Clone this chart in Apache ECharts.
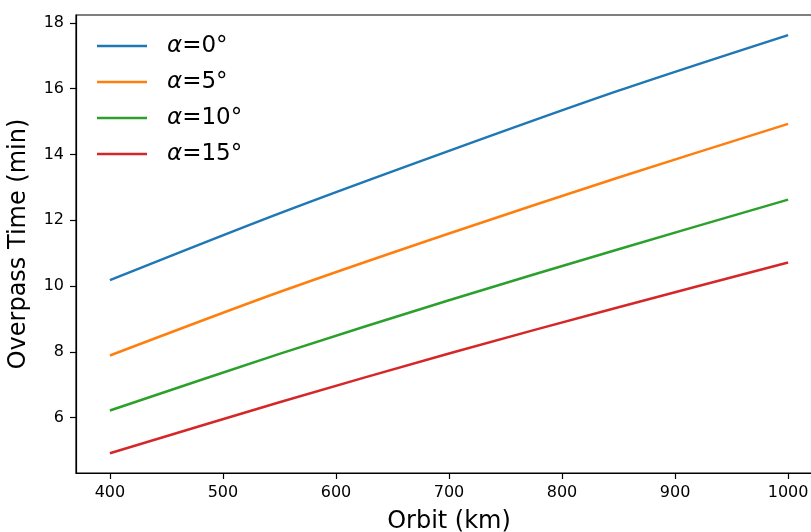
<!DOCTYPE html>
<html>
<head>
<meta charset="utf-8">
<script src="https://cdn.jsdelivr.net/npm/echarts@6/dist/echarts.min.js"></script>
<style>
  html, body { margin: 0; padding: 0; background: #fff; }
  #chart { width: 811px; height: 532px; }
</style>
</head>
<body>
<div id="chart"></div>
<script>
var orbits = [400, 550, 700, 850, 1000];
var alpha0 = [10.18, 12.21, 14.11, 15.94, 17.63];
var alpha5 = [7.89, 9.82, 11.60, 13.30, 14.93];
var alpha10 = [6.22, 7.94, 9.57, 11.12, 12.63];
var alpha15 = [4.92, 6.47, 7.95, 9.36, 10.72];
var seriesNames = ['α=0°', 'α=5°', 'α=10°', 'α=15°'];
var xTicks = [400, 500, 600, 700, 800, 900, 1000];
var yTicks = [6, 8, 10, 12, 14, 16, 18];

var colors = ['#1f77b4', '#ff7f0e', '#2ca02c', '#d62728'];
var font = 'DejaVu Sans';

function pairs(ys) {
  var out = [];
  for (var i = 0; i < orbits.length; i++) out.push([orbits[i], ys[i]]);
  return out;
}

var allData = [alpha0, alpha5, alpha10, alpha15];
var series = [];
for (var k = 0; k < allData.length; k++) {
  series.push({
    name: seriesNames[k],
    type: 'line',
    data: pairs(allData[k]),
    smooth: 0.3,
    showSymbol: false,
    lineStyle: { color: colors[k], width: 2.5 },
    itemStyle: { color: colors[k] }
  });
}

var chart = echarts.init(document.getElementById('chart'), null, { renderer: 'canvas' });
var option = {
  animation: false,
  color: colors,
  grid: {
    left: 76, top: 15, width: 746, height: 458,
    outerBoundsMode: 'none',
    containLabel: false,
    show: true, borderColor: '#000', borderWidth: 1.2, backgroundColor: 'transparent'
  },
  legend: {
    orient: 'vertical',
    left: 97, top: 34,
    padding: 0,
    itemWidth: 50, itemHeight: 2.5, itemGap: 12,
    icon: 'rect',
    data: seriesNames,
    formatter: function (name) { return '{i|α}{n|' + name.slice(1) + '}'; },
    textStyle: {
      padding: [0, 0, 0, 15],
      lineHeight: 24,
      rich: {
        i: { fontFamily: font, fontSize: 23, fontStyle: 'italic', color: '#000', lineHeight: 24 },
        n: { fontFamily: font, fontSize: 23, color: '#000', lineHeight: 24 }
      }
    }
  },
  xAxis: {
    type: 'value',
    min: 370, max: 1030,
    name: 'Orbit (km)',
    nameLocation: 'middle',
    nameGap: 37,
    nameTextStyle: { fontFamily: font, fontSize: 24, color: '#000', verticalAlign: 'top' },
    axisLine: { show: true, onZero: false, lineStyle: { color: '#000', width: 1.2 } },
    axisTick: { show: true, length: 6, customValues: xTicks, lineStyle: { color: '#000', width: 1.2 } },
    axisLabel: {
      customValues: xTicks, fontFamily: font, fontSize: 16, color: '#000', margin: 12,
      formatter: function (v) { return String(v); }
    },
    splitLine: { show: false }
  },
  yAxis: {
    type: 'value',
    min: 4.32, max: 18.24,
    name: 'Overpass Time (min)',
    nameLocation: 'middle',
    nameGap: 45,
    nameTextStyle: { fontFamily: font, fontSize: 24, color: '#000' },
    axisLine: { show: true, onZero: false, lineStyle: { color: '#000', width: 1.2 } },
    axisTick: { show: true, length: 6, customValues: yTicks, lineStyle: { color: '#000', width: 1.2 } },
    axisLabel: {
      customValues: yTicks, fontFamily: font, fontSize: 16, color: '#000', margin: 12,
      formatter: function (v) { return String(v); }
    },
    splitLine: { show: false }
  },
  series: series
};
chart.setOption(option);
</script>
</body>
</html>
